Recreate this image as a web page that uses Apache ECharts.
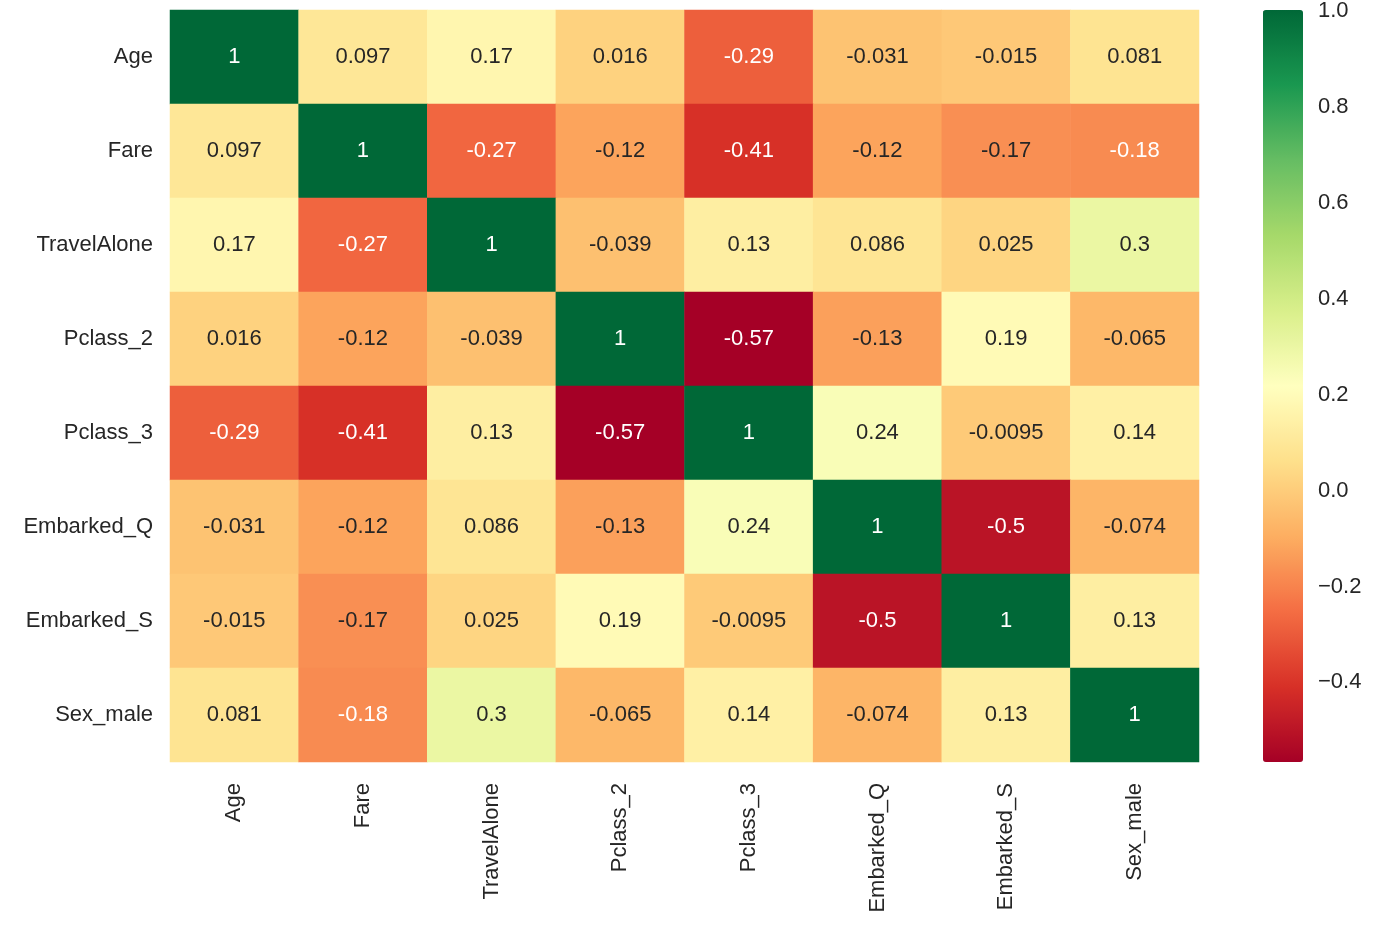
<!DOCTYPE html>
<html>
<head>
<meta charset="utf-8">
<script src="https://cdn.jsdelivr.net/npm/echarts@6/dist/echarts.min.js"></script>
<style>
html,body{margin:0;padding:0;background:#fff;}
#chart{width:1383px;height:931px;}
</style>
</head>
<body>
<div id="chart"></div>
<script>
// ---- data ----
const features = ['Age','Fare','TravelAlone','Pclass_2','Pclass_3','Embarked_Q','Embarked_S','Sex_male'];
const rowAge         = [1, 0.097, 0.17, 0.016, -0.29, -0.031, -0.015, 0.081];
const rowFare        = [0.097, 1, -0.27, -0.12, -0.41, -0.12, -0.17, -0.18];
const rowTravelAlone = [0.17, -0.27, 1, -0.039, 0.13, 0.086, 0.025, 0.3];
const rowPclass2     = [0.016, -0.12, -0.039, 1, -0.57, -0.13, 0.19, -0.065];
const rowPclass3     = [-0.29, -0.41, 0.13, -0.57, 1, 0.24, -0.0095, 0.14];
const rowEmbarkedQ   = [-0.031, -0.12, 0.086, -0.13, 0.24, 1, -0.5, -0.074];
const rowEmbarkedS   = [-0.015, -0.17, 0.025, 0.19, -0.0095, -0.5, 1, 0.13];
const rowSexMale     = [0.081, -0.18, 0.3, -0.065, 0.14, -0.074, 0.13, 1];
const colorbarTicks  = [-0.4, -0.2, 0.0, 0.2, 0.4, 0.6, 0.8, 1.0];
const vmin = -0.566, vmax = 1.0;

const rows = [rowAge,rowFare,rowTravelAlone,rowPclass2,rowPclass3,rowEmbarkedQ,rowEmbarkedS,rowSexMale];
const data = [];
rows.forEach((r, yi) => r.forEach((v, xi) => data.push([xi, yi, v])));

// RdYlGn palette
const palette = ['#a50026','#d73027','#f46d43','#fdae61','#fee08b','#ffffbf','#d9ef8b','#a6d96a','#66bd63','#1a9850','#006837'];
function hexRgb(h){return [parseInt(h.slice(1,3),16),parseInt(h.slice(3,5),16),parseInt(h.slice(5,7),16)];}
function cmap(v){
  let t = (v - vmin) / (vmax - vmin); t = Math.max(0, Math.min(1, t));
  const p = t * (palette.length - 1); const i = Math.min(Math.floor(p), palette.length - 2); const f = p - i;
  const a = hexRgb(palette[i]), b = hexRgb(palette[i+1]);
  return a.map((c, k) => c + (b[k] - c) * f);
}
function lum(rgb){
  const l = rgb.map(c => { c /= 255; return c <= 0.03928 ? c / 12.92 : Math.pow((c + 0.055) / 1.055, 2.4); });
  return 0.2126*l[0] + 0.7152*l[1] + 0.0722*l[2];
}
function textColor(v){ return lum(cmap(v)) < 0.397 ? '#ffffff' : '#262626'; }

const FONT = 'Liberation Sans, Arial, sans-serif';
const FS = 22;
const chart = echarts.init(document.getElementById('chart'));
chart.setOption({
  animation: false,
  backgroundColor: '#ffffff',
  grid: [
    {left: 170, top: 10, width: 1029, height: 752},
    {left: 1263, top: 10, width: 40, height: 752}
  ],
  xAxis: [
    {type: 'category', gridIndex: 0, data: features, position: 'bottom',
     axisLine: {show: false}, axisTick: {show: false}, splitLine: {show: false},
     axisLabel: {rotate: 90, margin: 21, color: '#262626', fontFamily: FONT, fontSize: FS}},
    {type: 'value', gridIndex: 1, show: false, min: 0, max: 1}
  ],
  yAxis: [
    {type: 'category', gridIndex: 0, data: features, inverse: true,
     axisLine: {show: false}, axisTick: {show: false}, splitLine: {show: false},
     axisLabel: {margin: 17, color: '#262626', fontFamily: FONT, fontSize: FS, padding: [4, 0, 0, 0]}},
    {type: 'value', gridIndex: 1, position: 'right', min: vmin, max: vmax,
     axisLine: {show: false}, splitLine: {show: false},
     axisTick: {show: true, length: 7, inside: false, customValues: colorbarTicks, lineStyle: {color: '#262626', width: 1}},
     axisLabel: {show: true, margin: 15, customValues: colorbarTicks, color: '#262626', fontFamily: FONT, fontSize: FS,
       padding: [4, 0, 0, 0],
       formatter: v => (v < -1e-9 ? '\u2212' : '') + Math.abs(v).toFixed(1)}}
  ],
  visualMap: {
    type: 'continuous', seriesIndex: 0, min: vmin, max: vmax, calculable: false,
    orient: 'vertical', left: 1263, top: 10, itemWidth: 40, itemHeight: 752, padding: 0,
    text: null, showLabel: false, hoverLink: false,
    inRange: {color: palette}
  },
  series: [
    {type: 'heatmap', xAxisIndex: 0, yAxisIndex: 0,
     data: data.map(d => ({value: d, label: {color: textColor(d[2])}})),
     label: {show: true, fontFamily: FONT, fontSize: FS, padding: [4, 0, 0, 0],
       formatter: p => String(p.value[2])},
     emphasis: {disabled: true},
     itemStyle: {borderWidth: 0}},
    {type: 'line', xAxisIndex: 1, yAxisIndex: 1, data: [], silent: true}
  ]
});
</script>
</body>
</html>
